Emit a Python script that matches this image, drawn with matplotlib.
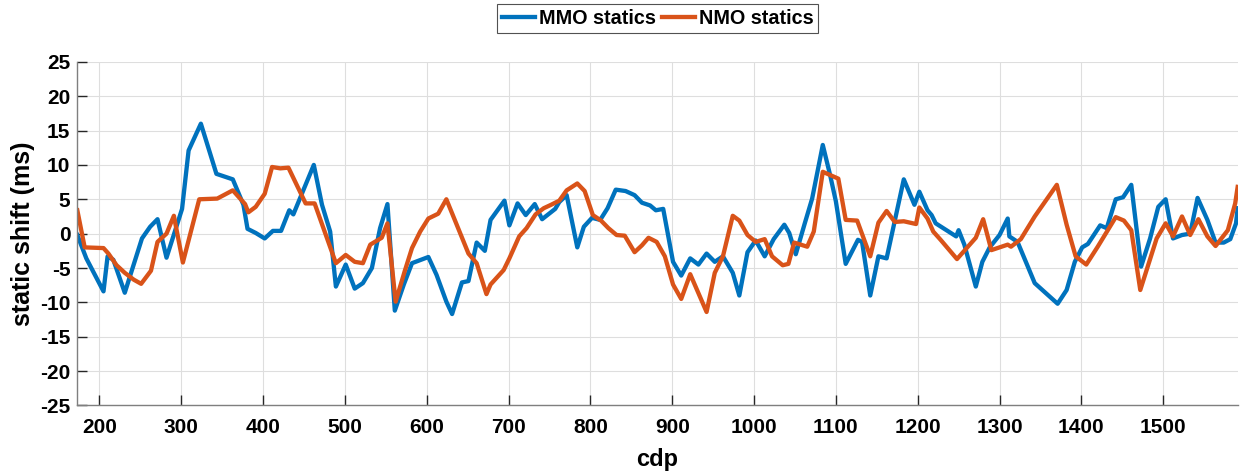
import matplotlib
matplotlib.use("Agg")
import matplotlib.pyplot as plt

plt.rcParams['font.family'] = ['Liberation Sans', 'DejaVu Sans']
plt.rcParams['axes.unicode_minus'] = False

mmo_x = [173, 184, 205, 210, 217, 231, 252, 262, 271, 282, 301, 309, 324, 343, 363, 376, 381, 391,
         402, 412, 422, 432, 437, 462, 472, 482, 489, 501, 512, 522, 533, 543, 552, 561, 572, 582,
         602, 612, 624, 631, 643, 651, 661, 671, 678, 695, 701, 711, 721, 732, 741, 757, 762, 771,
         784, 792, 802, 812, 821, 831, 843, 854, 863, 873, 880, 889, 901, 911, 922, 932, 942, 952,
         962, 974, 982, 992, 1002, 1013, 1024, 1037, 1043, 1051, 1062, 1071, 1084, 1093, 1100, 1112,
         1127, 1132, 1142, 1152, 1162, 1183, 1196, 1202, 1212, 1217, 1222, 1247, 1250, 1257, 1271,
         1279, 1288, 1300, 1310, 1312, 1322, 1343, 1371, 1382, 1392, 1401, 1408, 1423, 1431, 1442,
         1451, 1461, 1473, 1484, 1494, 1503, 1512, 1523, 1533, 1542, 1554, 1564, 1574, 1582, 1589, 1591]
mmo_y = [-0.2, -3.6, -8.4, -3.3, -3.8, -8.6, -0.7, 1.0, 2.1, -3.5, 3.6, 12.1, 16.0, 8.7, 7.9, 4.2, 0.7, 0.1,
         -0.7, 0.4, 0.4, 3.4, 2.8, 10.0, 4.2, 0.3, -7.7, -4.5, -8.0, -7.2, -5.0, 0.8, 4.3, -11.2, -7.4, -4.3,
         -3.4, -6.0, -9.9, -11.7, -7.1, -6.9, -1.3, -2.5, 2.0, 4.8, 1.2, 4.4, 2.7, 4.3, 2.1, 3.6, 4.6, 5.6,
         -2.0, 1.0, 2.3, 2.0, 3.7, 6.4, 6.2, 5.6, 4.5, 4.1, 3.4, 3.6, -4.1, -6.1, -3.6, -4.5, -2.9, -4.1,
         -3.3, -5.7, -9.0, -2.7, -1.0, -3.3, -0.8, 1.3, 0.1, -3.0, 1.5, 5.1, 12.9, 8.5, 4.7, -4.4,
         -0.9, -1.2, -9.0, -3.3, -3.6, 7.9, 4.2, 6.1, 3.4, 2.7, 1.5, -0.4, 0.5, -1.6, -7.7,
         -4.1, -2.0, -0.2, 2.2, -0.4, -1.2, -7.2, -10.2, -8.2, -4.1, -2.0, -1.5, 1.2, 0.8, 5.0,
         5.3, 7.1, -4.8, -0.7, 3.9, 5.0, -0.7, -0.2, 0.0, 5.2, 2.0, -1.3, -1.3, -0.8, 1.5, 3.7]

nmo_x = [173, 182, 205, 211, 221, 231, 242, 251, 263, 271, 282, 291, 302, 322, 344, 363, 378, 382, 391,
         402, 411, 421, 431, 452, 463, 489, 501, 512, 522, 531, 545, 552, 562, 573, 582, 592, 602, 614,
         624, 651, 661, 673, 678, 694, 701, 713, 722, 733, 743, 752, 762, 771, 784, 793, 803, 813, 822,
         832, 842, 854, 863, 871, 881, 891, 901, 911, 922, 942, 952, 962, 974, 982, 992, 1002, 1013,
         1022, 1035, 1042, 1049, 1065, 1073, 1084, 1103, 1112, 1126, 1142, 1152, 1162, 1172, 1183, 1198,
         1202, 1212, 1219, 1228, 1248, 1271, 1280, 1290, 1310, 1314, 1326, 1343, 1370, 1382, 1393, 1406,
         1420, 1442, 1452, 1461, 1472, 1492, 1503, 1512, 1523, 1533, 1543, 1554, 1564, 1579, 1588, 1591]
nmo_y = [3.4, -2.0, -2.1, -2.9, -4.6, -5.7, -6.7, -7.3, -5.4, -1.2, 0.0, 2.6, -4.2, 5.0, 5.1, 6.3, 4.3, 3.1, 3.9,
         5.8, 9.7, 9.5, 9.6, 4.4, 4.4, -4.3, -3.1, -4.1, -4.3, -1.6, -0.6, 1.5, -9.9, -5.5, -2.1, 0.3, 2.2, 2.9,
         5.0, -2.9, -4.3, -8.8, -7.4, -5.3, -3.6, -0.4, 0.8, 2.8, 3.7, 4.2, 4.8, 6.3, 7.3, 6.2, 2.7, 1.9, 0.8,
         -0.2, -0.3, -2.7, -1.7, -0.6, -1.2, -3.3, -7.4, -9.5, -5.9, -11.4, -5.7, -3.3, 2.6, 1.9, -0.2, -1.2, -0.8,
         -3.3, -4.6, -4.4, -1.3, -1.9, 0.3, 9.0, 8.0, 2.0, 1.9, -3.3, 1.6, 3.3, 1.7, 1.8, 1.4,
         3.8, 2.2, 0.3, -0.9, -3.7, -0.6, 2.1, -2.4, -1.6, -1.9, -0.8, 2.5, 7.1, 1.3, -3.3, -4.5,
         -1.9, 2.4, 1.9, 0.5, -8.2, -0.7, 1.5, -0.4, 2.5, -0.2, 2.1, -0.4, -1.8, 0.5, 4.4, 6.8]

x_ticks = [200, 300, 400, 500, 600, 700, 800, 900, 1000, 1100, 1200, 1300, 1400, 1500]
y_ticks = [25, 20, 15, 10, 5, 0, -5, -10, -15, -20, -25]

fig = plt.figure(figsize=(12.43, 4.72), dpi=100)
ax = fig.add_axes([0.0622, 0.141, 0.9335, 0.728])

ax.plot(mmo_x, mmo_y, color='#0072BD', lw=3.1, label='MMO statics')
ax.plot(nmo_x, nmo_y, color='#D95319', lw=3.1, label='NMO statics')

ax.set_xlim(173, 1591)
ax.set_ylim(-25, 25)
ax.set_xticks(x_ticks)
ax.set_yticks(y_ticks)
ax.grid(True, color='#dedede', lw=0.8)
ax.set_axisbelow(True)
for s in ['top', 'right']:
    ax.spines[s].set_visible(False)
for s in ['left', 'bottom']:
    ax.spines[s].set_color('#7f7f7f')
    ax.spines[s].set_linewidth(1.0)
ax.tick_params(direction='in', length=7, width=1.0, color='#262626', labelsize=15)
ax.tick_params(axis='x', pad=9)
ax.tick_params(axis='y', pad=5)
for lab in ax.get_xticklabels() + ax.get_yticklabels():
    lab.set_fontweight('bold')

ax.set_xlabel('cdp', fontsize=17, fontweight='bold')
ax.set_ylabel('static shift (ms)', fontsize=18, fontweight='bold')
ax.xaxis.set_label_coords(0.5, -0.1585)
ax.xaxis.label.set_va('center')
ax.yaxis.set_label_coords(-0.0468, 0.5)
ax.yaxis.label.set_va('center')

leg = ax.legend(loc='center', bbox_to_anchor=(0.5, 1.1257), ncol=2, frameon=True,
                fancybox=False, edgecolor='#262626', handlelength=1.68, handletextpad=0.2,
                columnspacing=0.3, borderpad=0.25, borderaxespad=0,
                prop={'weight': 'bold', 'size': 14.2})
leg.get_frame().set_linewidth(0.8)

fig.savefig('out.png', dpi=100)
